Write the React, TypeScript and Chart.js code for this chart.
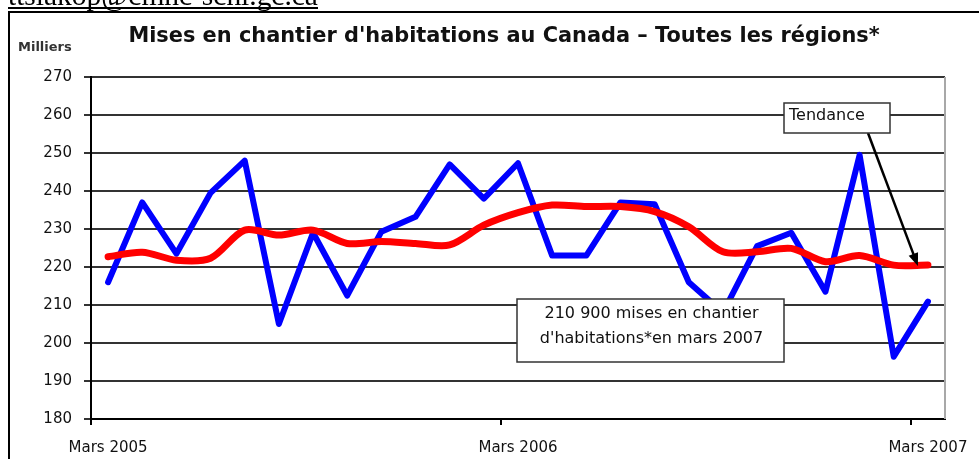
import { useEffect, useRef } from 'react';
import { Chart, registerables } from 'chart.js';

Chart.register(...registerables);

// ---- Data ----
const categories = [
  'Mars 2005', 'Avril 2005', 'Mai 2005', 'Juin 2005', 'Juillet 2005', 'Août 2005',
  'Septembre 2005', 'Octobre 2005', 'Novembre 2005', 'Décembre 2005', 'Janvier 2006', 'Février 2006',
  'Mars 2006', 'Avril 2006', 'Mai 2006', 'Juin 2006', 'Juillet 2006', 'Août 2006',
  'Septembre 2006', 'Octobre 2006', 'Novembre 2006', 'Décembre 2006', 'Janvier 2007', 'Février 2007',
  'Mars 2007',
];

// Mises en chantier (milliers)
const starts = [
  216, 237, 223.5, 239.5, 248, 205, 229, 212.5, 229.3, 233.2, 247, 238,
  247.3, 223, 223, 237, 236.5, 216, 208, 225.5, 229, 213.5, 249.5, 196.4,
  210.9,
];

// Tendance
const trend = [
  222.7, 223.9, 221.8, 222.3, 229.7, 228.4, 229.7, 226.2, 226.7, 226.2, 225.8, 231,
  234.3, 236.3, 235.9, 235.9, 234.6, 230.6, 224, 224, 224.9, 221.4, 223, 220.5,
  220.5,
];

const xTickLabels = ['Mars 2005', 'Mars 2006', 'Mars 2007'];
const yMin = 180;
const yMax = 270;
const yStep = 10;

const titleText = "Mises en chantier d'habitations au Canada – Toutes les régions*";
const yUnitText = 'Milliers';
const emailText = 'ttsiakop@cmhc-schl.gc.ca';
const trendLabel = 'Tendance';
const noteLines = ['210 900 mises en chantier', "d'habitations*en mars 2007"];

const FONT = '"DejaVu Sans", sans-serif';

function fitSize(ctx: CanvasRenderingContext2D, text: string, weight: string, family: string, width: number) {
  ctx.font = `${weight} 100px ${family}`;
  const w = ctx.measureText(text).width;
  return (100 * width) / w;
}

const decorPlugin = {
  id: 'decor',
  beforeDraw(chart: any) {
    const ctx = chart.ctx as CanvasRenderingContext2D;
    ctx.save();
    ctx.fillStyle = '#ffffff';
    ctx.fillRect(0, 0, chart.width, chart.height);
    ctx.restore();
  },
  afterDraw(chart: any) {
    const ctx = chart.ctx as CanvasRenderingContext2D;
    const area = chart.chartArea;
    const xs = chart.scales.x;
    const ys = chart.scales.y;
    ctx.save();

    // email (cut off at top)
    const es = fitSize(ctx, emailText, 'normal', '"Liberation Serif", serif', 310);
    ctx.font = `normal ${es}px "Liberation Serif", serif`;
    ctx.fillStyle = '#000';
    ctx.textAlign = 'left';
    ctx.textBaseline = 'alphabetic';
    ctx.fillText(emailText, 8, 5);
    ctx.fillRect(8, 7, 310, 2);

    // outer frame
    ctx.strokeStyle = '#000';
    ctx.lineWidth = 2;
    ctx.beginPath();
    ctx.moveTo(9, chart.height);
    ctx.lineTo(9, 12);
    ctx.lineTo(chart.width, 12);
    ctx.stroke();

    // title
    const ts = fitSize(ctx, titleText, 'bold', FONT, 752);
    ctx.font = `bold ${ts}px ${FONT}`;
    ctx.fillStyle = '#111';
    ctx.textAlign = 'center';
    ctx.fillText(titleText, 504, 42);

    // unit
    ctx.font = `bold 13px ${FONT}`;
    ctx.fillStyle = '#333';
    ctx.textAlign = 'left';
    ctx.fillText(yUnitText, 18, 51);

    // right border of plot
    ctx.strokeStyle = '#a8a8a8';
    ctx.lineWidth = 2;
    ctx.beginPath();
    ctx.moveTo(area.right, area.top);
    ctx.lineTo(area.right, area.bottom);
    ctx.stroke();

    // note box
    const nx = 517, ny = 299, nw = 267, nh = 63;
    ctx.fillStyle = '#fff';
    ctx.fillRect(nx, ny, nw, nh);
    ctx.strokeStyle = '#333';
    ctx.lineWidth = 1.5;
    ctx.strokeRect(nx, ny, nw, nh);
    ctx.font = `normal 16px ${FONT}`;
    ctx.fillStyle = '#111';
    ctx.textAlign = 'center';
    ctx.textBaseline = 'middle';
    ctx.fillText(noteLines[0], nx + nw / 2 + 1, 314);
    ctx.fillText(noteLines[1], nx + nw / 2 + 1, 339);

    // arrow from Tendance box to last trend point
    const last = trend.length - 1;
    const tx = xs.getPixelForValue(last) - 10;
    const ty = ys.getPixelForValue(trend[last]) + 1;
    const sx = 868, sy = 133;
    ctx.strokeStyle = '#000';
    ctx.fillStyle = '#000';
    ctx.lineWidth = 2.5;
    const ang = Math.atan2(ty - sy, tx - sx);
    const hl = 13;
    ctx.beginPath();
    ctx.moveTo(sx, sy);
    ctx.lineTo(tx - Math.cos(ang) * hl * 0.8, ty - Math.sin(ang) * hl * 0.8);
    ctx.stroke();
    ctx.beginPath();
    ctx.moveTo(tx, ty);
    ctx.lineTo(tx - hl * Math.cos(ang) + 5 * Math.sin(ang), ty - hl * Math.sin(ang) - 5 * Math.cos(ang));
    ctx.lineTo(tx - hl * Math.cos(ang) - 5 * Math.sin(ang), ty - hl * Math.sin(ang) + 5 * Math.cos(ang));
    ctx.closePath();
    ctx.fill();

    // Tendance box
    const bx = 784, by = 103, bw = 106, bh = 30;
    ctx.fillStyle = '#fff';
    ctx.fillRect(bx, by, bw, bh);
    ctx.strokeStyle = '#333';
    ctx.lineWidth = 1.5;
    ctx.strokeRect(bx, by, bw, bh);
    ctx.font = `normal 16px ${FONT}`;
    ctx.fillStyle = '#111';
    ctx.textAlign = 'left';
    ctx.textBaseline = 'middle';
    ctx.fillText(trendLabel, bx + 5, by + 13);

    ctx.restore();
  },
};

export default function App() {
  const ref = useRef<HTMLCanvasElement | null>(null);

  useEffect(() => {
    if (!ref.current) return;
    const chart = new Chart(ref.current, {
      type: 'line',
      data: {
        labels: categories,
        datasets: [
          {
            label: 'Tendance',
            data: trend,
            borderColor: '#ff0000',
            borderWidth: 7,
            tension: 0.3,
            pointRadius: 0,
            borderJoinStyle: 'round',
            borderCapStyle: 'round',
            order: 0,
          },
          {
            label: 'Mises en chantier',
            data: starts,
            borderColor: '#0000ff',
            borderWidth: 6,
            tension: 0,
            pointRadius: 0,
            borderJoinStyle: 'round',
            borderCapStyle: 'round',
            order: 1,
          },
        ],
      },
      options: {
        animation: false,
        responsive: false,
        maintainAspectRatio: false,
        layout: { padding: { top: 77, right: 34, bottom: 0, left: 0 } },
        plugins: {
          legend: { display: false },
          title: { display: false },
          tooltip: { enabled: false },
        },
        scales: {
          x: {
            type: 'category',
            offset: true,
            afterFit: (s: any) => { s.height = 40; s.paddingLeft = 0; s.paddingRight = 0; },
            grid: {
              offset: true,
              drawOnChartArea: false,
              drawTicks: true,
              tickLength: 6,
              lineWidth: 2,
              color: (c: any) => (c.index % 12 === 0 ? '#000' : 'rgba(0,0,0,0)'),
            },
            border: { display: true, color: '#000', width: 2 },
            ticks: {
              autoSkip: false,
              maxRotation: 0,
              minRotation: 0,
              padding: 14,
              color: '#111',
              font: { family: FONT, size: 15 },
              callback: (_v: any, i: number) => (xTickLabels.includes(categories[i]) ? categories[i] : ''),
            },
          },
          y: {
            min: yMin,
            max: yMax,
            afterFit: (s: any) => { s.width = 91; s.paddingTop = 0; s.paddingBottom = 0; },
            grid: {
              color: '#333',
              lineWidth: 2,
              tickLength: 7,
            },
            border: { display: true, color: '#000', width: 2 },
            ticks: {
              stepSize: yStep,
              padding: 12,
              color: '#111',
              font: { family: FONT, size: 15 },
            },
          },
        },
      },
      plugins: [decorPlugin],
    } as any);
    return () => chart.destroy();
  }, []);

  return (
    <div style={{ position: 'absolute', left: 0, top: 0, width: 979, height: 459 }}>
      <canvas ref={ref} width={979} height={459} style={{ width: 979, height: 459, display: 'block' }} />
    </div>
  );
}
